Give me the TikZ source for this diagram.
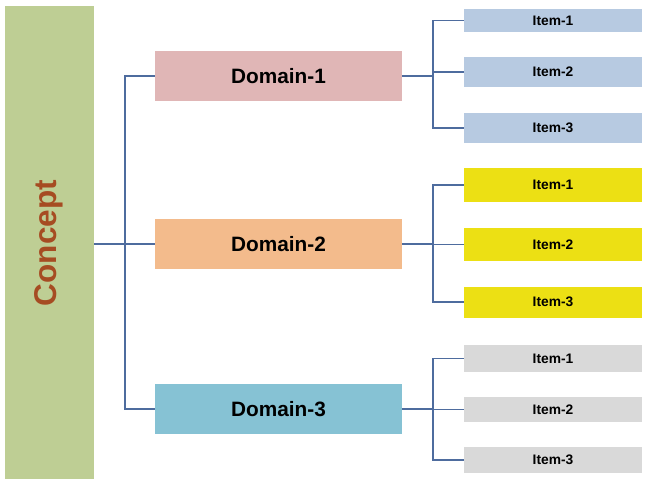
\documentclass[tikz,border=0pt]{standalone}
\usepackage{fontspec}
\setmainfont{Liberation Sans}
\definecolor{conceptfill}{RGB}{190,206,148}
\definecolor{concepttext}{RGB}{166,76,34}
\definecolor{dompink}{RGB}{224,182,182}
\definecolor{domorange}{RGB}{243,187,140}
\definecolor{domblue}{RGB}{134,194,212}
\definecolor{itemblue}{RGB}{183,202,225}
\definecolor{itemyellow}{RGB}{236,224,20}
\definecolor{itemgrey}{RGB}{217,217,217}
\definecolor{linkblue}{RGB}{78,108,158}
\tikzset{
  conceptbox/.style={fill=conceptfill, minimum width=89pt, minimum height=473pt, inner sep=0pt},
  domainbox/.style={minimum width=247pt, minimum height=50pt, inner sep=0pt,
    font=\fontsize{20.8}{24}\selectfont\bfseries},
  itembox/.style={minimum width=178pt, inner sep=0pt,
    font=\fontsize{13.8}{16}\selectfont\bfseries},
  link/.style={draw=linkblue, line width=1.8pt}
}
\begin{document}
\begin{tikzpicture}[x=1pt,y=-1pt]
\useasboundingbox (0,0) rectangle (648,479);
\fill[white] (0,0) rectangle (648,479);

% concept column
\node[conceptbox] (c) at (49.5,242.5) {};
\node[rotate=90, text=concepttext, font=\fontsize{31.5}{36}\selectfont\bfseries] (ct) at (49,243) {Concept};

% domains
\node[domainbox, fill=dompink]   (d1) at (278.5,76)  {Domain-1};
\node[domainbox, fill=domorange] (d2) at (278.5,244) {Domain-2};
\node[domainbox, fill=domblue]   (d3) at (278.5,409) {Domain-3};

% items of domain 1
\node[itembox, fill=itemblue, minimum height=23pt] (i11) at (553,20.5) {Item-1};
\node[itembox, fill=itemblue, minimum height=30pt] (i12) at (553,72)   {Item-2};
\node[itembox, fill=itemblue, minimum height=30pt] (i13) at (553,128)  {Item-3};
% items of domain 2
\node[itembox, fill=itemyellow, minimum height=34pt] (i21) at (553,185)   {Item-1};
\node[itembox, fill=itemyellow, minimum height=33pt] (i22) at (553,244.5) {Item-2};
\node[itembox, fill=itemyellow, minimum height=31pt] (i23) at (553,302)   {Item-3};
% items of domain 3
\node[itembox, fill=itemgrey, minimum height=27pt] (i31) at (553,358.5) {Item-1};
\node[itembox, fill=itemgrey, minimum height=25pt] (i32) at (553,409.5) {Item-2};
\node[itembox, fill=itemgrey, minimum height=26pt] (i33) at (553,460)   {Item-3};

% concept to domains
\draw[link] (c.east |- d2.west) -- (d2.west);
\draw[link] (d1.west) -- ++(-30,0) |- (d3.west);

% domains to items
\draw[link] (d1.east) -- ++(31,0);
\draw[link] (i11.west) -- ++(-31,0) |- (i13.west);
\draw[link] (i12.west) -- ++(-31,0);

\draw[link] (d2.east) -- ++(31,0);
\draw[link] (i21.west) -- ++(-31,0) |- (i23.west);
\draw[link] (i22.west) -- ++(-31,0);

\draw[link] (d3.east) -- ++(31,0);
\draw[link] (i31.west) -- ++(-31,0) |- (i33.west);
\draw[link] (i32.west) -- ++(-31,0);
\end{tikzpicture}
\end{document}
